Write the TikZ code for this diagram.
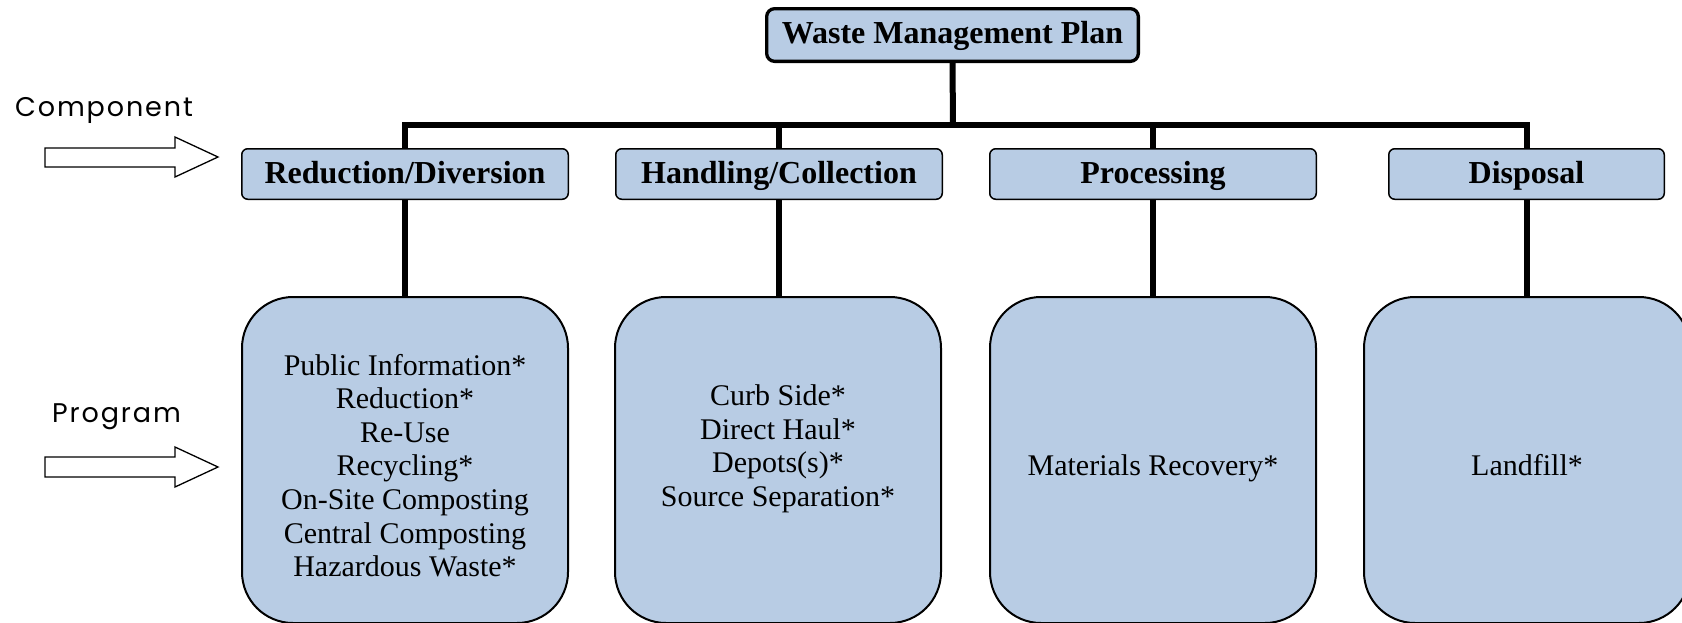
\documentclass[tikz,border=0pt]{standalone}
\usepackage{fontspec}
\setmainfont{Liberation Serif}
\newfontfamily\labfont{Poppins}[LetterSpace=7]
\definecolor{boxblue}{HTML}{B8CCE4}
\begin{document}
\begin{tikzpicture}[x=1pt,y=-1pt,
  conn/.style={line width=6pt, line join=miter},
  planbox/.style={draw, fill=boxblue, line width=3.3pt, rounded corners=8pt, inner sep=0pt,
    minimum width=371.7pt, minimum height=52.7pt, text height=23pt, text depth=7pt,
    font=\fontsize{32}{36}\selectfont\bfseries},
  compbox/.style={draw, fill=boxblue, line width=1.5pt, rounded corners=6pt, inner sep=0pt,
    minimum width=326.5pt, minimum height=50.5pt, text height=24pt, text depth=6pt,
    font=\fontsize{32}{36}\selectfont\bfseries},
  progbox/.style={draw, fill=boxblue, line width=2pt, rounded corners=51pt, inner sep=0pt,
    minimum width=326pt, minimum height=326pt},
  progtext/.style={align=center, inner sep=0pt, font=\fontsize{30}{33.6}\selectfont},
  lab/.style={inner sep=0pt, font=\labfont\fontsize{27}{32}\selectfont},
  blockarrow/.style={draw, fill=white, line width=1.3pt, line join=miter}]
\useasboundingbox (0,0) rectangle (1682,622);
\clip (0,0) rectangle (1682,622);

% nodes
\node[planbox] (plan) at (952.5,35) {Waste Management Plan};
\node[compbox] (c1) at (405,174) {Reduction/Diversion};
\node[compbox] (c2) at (779,174) {Handling/Collection};
\node[compbox] (c3) at (1153,174) {Processing};
\node[compbox, minimum width=275.5pt] (c4) at (1526.5,174) {Disposal};

\node[progbox] (p1) at (405,460) {};
\node[progbox] (p2) at (778,460) {};
\node[progbox] (p3) at (1153,460) {};
\node[progbox] (p4) at (1527,460) {};

\node[progtext] (p1t) at (405,465.6) {Public Information*\\Reduction*\\Re-Use\\Recycling*\\On-Site Composting\\Central Composting\\Hazardous Waste*};
\node[progtext] (p2t) at (778,448.8) {Curb Side*\\Direct Haul*\\Depots(s)*\\Source Separation*};
\node[progtext, anchor=base] (p3t) at (1153,475) {Materials Recovery*};
\node[progtext, anchor=base] (p4t) at (1527,475) {Landfill*};

% connectors
\coordinate (bus) at (953,124.5);
\draw[conn] (plan.south) -- (bus);
\draw[conn] (c1.north) -- (c1.north |- bus) -- (c4.north |- bus) -- (c4.north);
\draw[conn] (c2.north |- bus) -- (c2.north);
\draw[conn] (c3.north |- bus) -- (c3.north);
\draw[conn] (c1.south) -- (c1.south |- p1.north);
\draw[conn] (c2.south) -- (c2.south |- p2.north);
\draw[conn] (c3.south) -- (c3.south |- p3.north);
\draw[conn] (c4.south) -- (c4.south |- p4.north);

% side labels and block arrows
\node[lab, anchor=base] (complab) at (104,116) {Component};
\node[lab, anchor=base] (proglab) at (116.5,422) {Program};
\draw[blockarrow] (45,148) -- (175,148) -- (175,137) -- (218,157) -- (175,177) -- (175,167) -- (45,167) -- cycle;
\draw[blockarrow] (45,457) -- (175,457) -- (175,447) -- (218,467) -- (175,487) -- (175,477) -- (45,477) -- cycle;
\end{tikzpicture}
\end{document}
